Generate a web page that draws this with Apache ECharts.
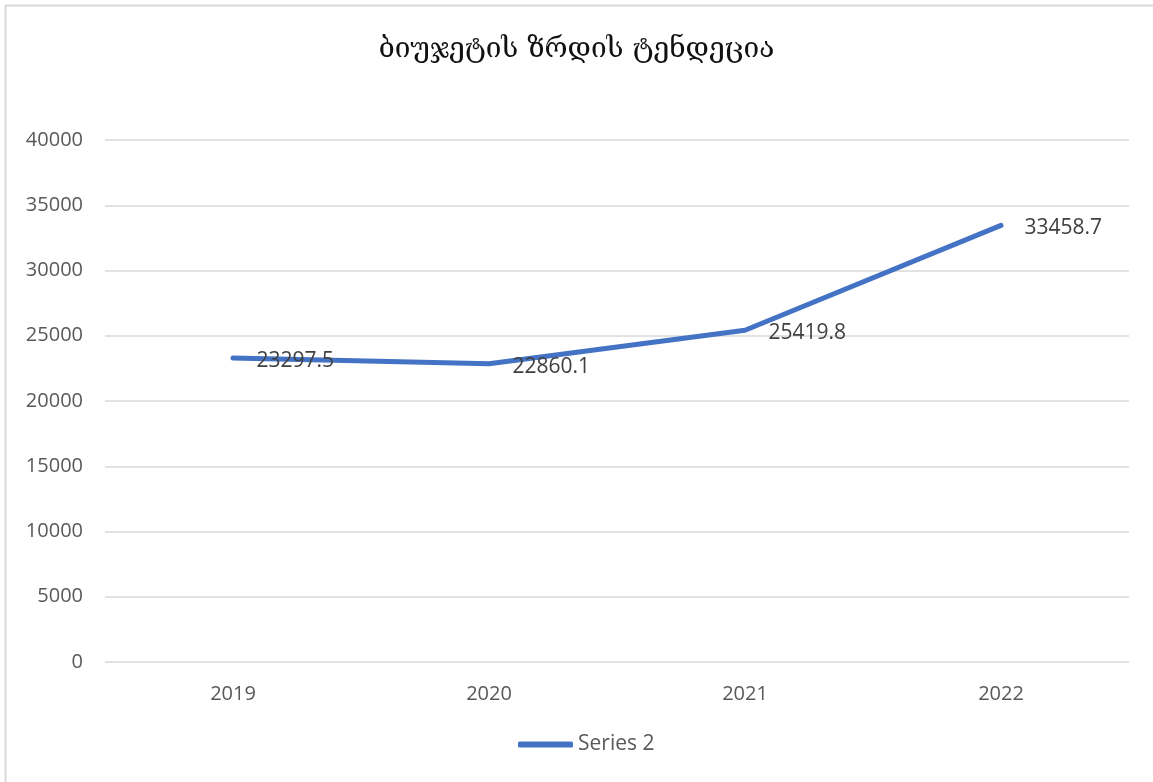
<!DOCTYPE html>
<html>
<head>
<meta charset="utf-8">
<script src="https://cdn.jsdelivr.net/npm/echarts@6/dist/echarts.min.js"></script>
<style>
  html, body { margin: 0; padding: 0; background: #fff; }
  #chart { width: 1153px; height: 782px; }
</style>
</head>
<body>
<div id="chart"></div>
<script>
// data
var years = ['2019', '2020', '2021', '2022'];
var budget = [23297.5, 22860.1, 25419.8, 33458.7];
var yTicks = [0, 5000, 10000, 15000, 20000, 25000, 30000, 35000, 40000];
var seriesName = 'Series 2';
var titleText = 'ბიუჯეტის ზრდის ტენდეცია';

var myChart = echarts.init(document.getElementById('chart'));
myChart.setOption({
  animation: false,
  title: {
    text: titleText,
    left: 'center',
    top: 31,
    textStyle: {
      fontFamily: 'DejaVu Serif',
      fontSize: 28,
      fontWeight: 'normal',
      color: '#111'
    }
  },
  // outer chart frame
  graphic: [{
    type: 'rect',
    shape: { x: 5.5, y: 5.5, width: 1160, height: 790 },
    style: { fill: 'none', stroke: '#d9d9d9', lineWidth: 2 },
    silent: true
  }],
  legend: {
    data: [seriesName],
    bottom: 22,
    left: 513,
    itemWidth: 55,
    itemHeight: 6,
    itemGap: 4,
    icon: 'roundRect',
    textStyle: { fontFamily: 'Open Sans', fontSize: 21, color: '#595959', padding: [0, 0, 0, 0] }
  },
  grid: {
    left: 105,
    right: 24,
    top: 140,
    bottom: 120,
    containLabel: false
  },
  xAxis: {
    type: 'category',
    data: years,
    boundaryGap: true,
    axisLine: { show: false },
    axisTick: { show: false },
    axisLabel: {
      margin: 22,
      fontFamily: 'Open Sans',
      fontSize: 20,
      color: '#595959'
    }
  },
  yAxis: {
    type: 'value',
    min: yTicks[0],
    max: yTicks[yTicks.length - 1],
    interval: 5000,
    axisLine: { show: false },
    axisTick: { show: false },
    splitLine: { lineStyle: { color: '#d9d9d9', width: 1.5 } },
    axisLabel: {
      margin: 22,
      fontFamily: 'Open Sans',
      fontSize: 20,
      color: '#595959',
      formatter: function (v) { return String(v); }
    }
  },
  series: [{
    name: seriesName,
    type: 'line',
    data: budget,
    symbol: 'circle',
    symbolSize: 1,
    showSymbol: true,
    lineStyle: { color: '#4472C4', width: 5, cap: 'round', join: 'round' },
    itemStyle: { color: '#4472C4' },
    label: {
      show: true,
      position: 'right',
      distance: 23,
      offset: [0, 3],
      fontFamily: 'Open Sans',
      fontSize: 21,
      color: '#404040'
    }
  }]
});
</script>
</body>
</html>
